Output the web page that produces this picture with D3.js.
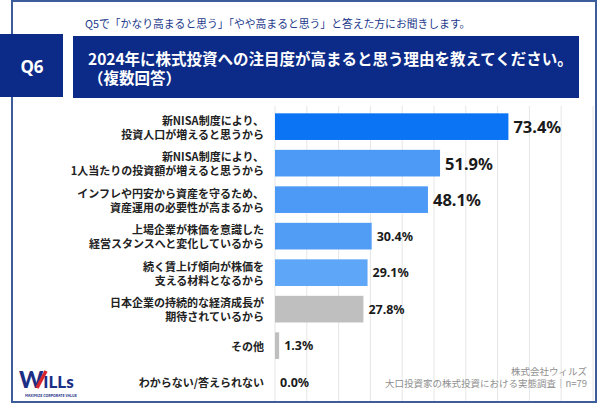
<!DOCTYPE html>
<html>
<head>
<meta charset="utf-8">
<script src="https://cdn.jsdelivr.net/npm/d3@7"></script>
<style>
  body{margin:0;background:#fff;}
  svg{display:block;font-family:"Noto Sans CJK JP","Noto Sans",sans-serif;}
</style>
</head>
<body>
<svg id="chart" width="602" height="404"></svg>
<script>
// data
let categories = [
  "新NISA制度により、\n投資人口が増えると思うから",
  "新NISA制度により、\n1人当たりの投資額が増えると思うから",
  "インフレや円安から資産を守るため、\n資産運用の必要性が高まるから",
  "上場企業が株価を意識した\n経営スタンスへと変化しているから",
  "続く賃上げ傾向が株価を\n支える材料となるから",
  "日本企業の持続的な経済成長が\n期待されているから",
  "その他",
  "わからない/答えられない"
]
let values = [73.4, 51.9, 48.1, 30.4, 29.1, 27.8, 1.3, 0.0]
let gridTicks = [0, 10, 20, 30, 40, 50, 60, 70, 80, 90, 100]
let subtitle = "Q5で「かなり高まると思う」「やや高まると思う」と答えた方にお聞きします。"
let titleLines = ["2024年に株式投資への注目度が高まると思う理由を教えてください。", "（複数回答）"]
let sourceLines = ["株式会社ウィルズ", "大口投資家の株式投資における実態調査｜n=79"]

// bar colours by rank
let barColors = ["#0a74f5", "#4c9af6", "#4c9af6", "#519df6", "#5ea6f7", "#bfbfbf", "#bfbfbf", "#bfbfbf"]
let navy = "#0c2a88"

var svg = d3.select("#chart")

// outer frame
svg.append("rect").attr("x", 12).attr("y", 1).attr("width", 584).attr("height", 401)
  .attr("fill", "#fff").attr("stroke", "#3d5c9c").attr("stroke-width", 2)

// header
svg.append("text").text(subtitle).attr("x", 85).attr("y", 28)
  .style("font-size", "10.8px").style("fill", "#1d3a8c")
svg.append("rect").attr("x", 0).attr("y", 34).attr("width", 63).attr("height", 63).attr("fill", navy)
svg.append("text").text("Q6").attr("x", 32).attr("y", 66).attr("text-anchor", "middle")
  .attr("dominant-baseline", "central").style("font-size", "17px").style("font-weight", "bold")
  .style("fill", "#fff").style("font-family", "'Noto Sans',sans-serif")
svg.append("rect").attr("x", 73).attr("y", 36).attr("width", 506).attr("height", 62).attr("fill", navy)
svg.selectAll(".title").data(titleLines).enter().append("text")
  .attr("x", 88).attr("y", function(d, i){return 58 + i*18.5})
  .attr("dominant-baseline", "central").text(function(d){return d})
  .style("font-size", "15.5px").style("font-weight", "bold").style("fill", "#fff")

// scales
var x = d3.scaleLinear().domain([0, 100]).range([275, 593])
var y = d3.scaleBand().domain(categories).range([108.4, 400.4]).paddingInner(0.27).paddingOuter(0.135)

// grid
svg.selectAll(".grid").data(gridTicks).enter().append("line")
  .attr("x1", function(d){return x(d)}).attr("x2", function(d){return x(d)})
  .attr("y1", 106).attr("y2", 401).attr("stroke", "#e6e6e6").attr("stroke-width", 1)

// bars
svg.selectAll(".bar").data(values).enter().append("rect")
  .attr("x", x(0)).attr("y", function(d, i){return y(categories[i])})
  .attr("width", function(d){return x(d) - x(0)}).attr("height", y.bandwidth())
  .attr("fill", function(d, i){return barColors[i]})

// value labels
svg.selectAll(".val").data(values).enter().append("text")
  .attr("x", function(d){return x(d) + 5})
  .attr("y", function(d, i){return y(categories[i]) + y.bandwidth()/2})
  .attr("dominant-baseline", "central")
  .text(function(d){return d.toFixed(1) + "%"})
  .style("font-size", function(d, i){return i < 3 ? "16.5px" : "12.5px"})
  .style("font-weight", "bold").style("fill", "#1a1a1a")
  .style("font-family", "'Noto Sans',sans-serif")

// category labels
categories.forEach(function(c, i){
  var lines = c.split("\n")
  var cy = y(c) + y.bandwidth()/2
  var t = svg.append("text").attr("text-anchor", "end")
    .style("font-size", "11px").style("font-weight", "bold").style("fill", "#222")
  lines.forEach(function(l, k){
    t.append("tspan").attr("x", 264)
      .attr("y", cy + (k - (lines.length - 1)/2)*13.8)
      .attr("dominant-baseline", "central").text(l)
  })
})

// source
svg.selectAll(".src").data(sourceLines).enter().append("text")
  .attr("x", 587).attr("y", function(d, i){return 375 + i*12}).attr("text-anchor", "end")
  .text(function(d){return d}).style("font-size", "9.5px").style("fill", "#8f8f8f")

// logo
var logo = svg.append("text").attr("x", 19).attr("y", 388)
  .style("font-family", "Lato,sans-serif").style("font-weight", "900").style("fill", "#1c2f86")
logo.append("tspan").text("W").style("font-size", "23px")
logo.append("tspan").text("ILLs").style("font-size", "17px")
svg.append("line").attr("x1", 37).attr("y1", 388).attr("x2", 46).attr("y2", 371)
  .attr("stroke", "#d8262e").attr("stroke-width", 3.5)
svg.append("text").text("MAXIMIZE CORPORATE VALUE").attr("x", 25).attr("y", 397)
  .style("font-size", "3.6px").style("font-weight", "bold").style("fill", "#1c2f86")
</script>
</body>
</html>
